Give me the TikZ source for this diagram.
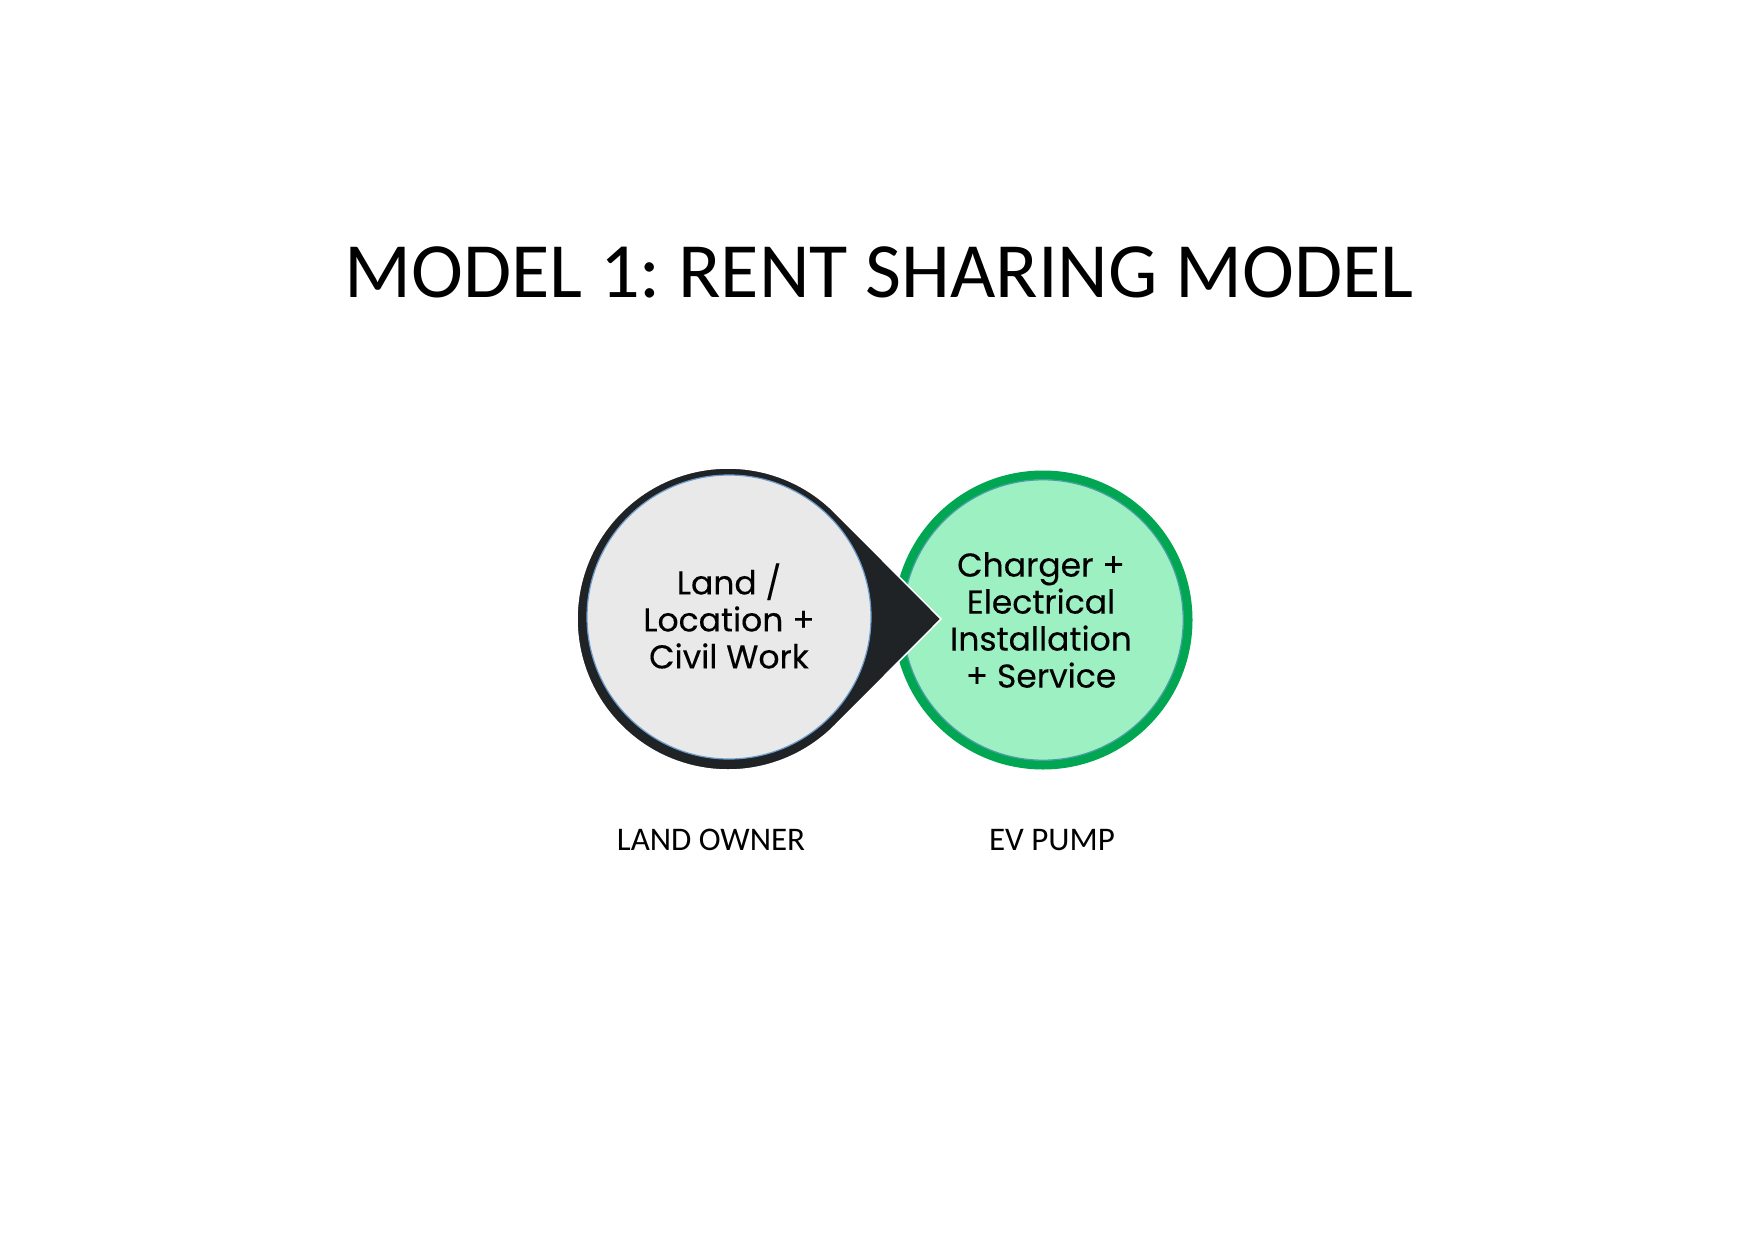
\documentclass[tikz,border=0pt]{standalone}
\usepackage{fontspec}
\usetikzlibrary{calc}
\setmainfont{Carlito}
\newfontfamily\circfont{Poppins}[FakeBold=0.25]
\frenchspacing
\definecolor{ringblack}{HTML}{202325}
\definecolor{grayfill}{HTML}{E9E9E9}
\definecolor{edgeblue}{HTML}{6A9BCB}
\definecolor{ringgreen}{HTML}{00A651}
\definecolor{greenfill}{HTML}{9DF0C2}
\begin{document}
\begin{tikzpicture}[x=1pt,y=-1pt,
  circtext/.style={align=center,font=\circfont\fontsize{33}{37}\selectfont,text=black,inner sep=0pt},
  labeltext/.style={font=\fontsize{33}{38}\selectfont,inner sep=0pt,anchor=base}]
\useasboundingbox[fill=white] (0,0) rectangle (1755,1241);
% title
\node[font=\fontsize{78.3}{96}\selectfont,inner sep=0pt,anchor=base] (title) at (879,297) {MODEL 1: RENT SHARING MODEL};
% right circle (green)
\coordinate (rc) at (1043,620);
\fill[greenfill] (rc) circle (145);
\draw[ringgreen,line width=9pt] (rc) circle (145);
\draw[edgeblue!70!ringgreen,line width=1.2pt] (rc) circle (140.2);
% left pointer shape (black)
\coordinate (lc) at (728,619);
\coordinate (tip) at (941,619);
\filldraw[fill=ringblack,draw=white,line width=1.5pt] (tip) -- ($(lc)+(45:151)$) arc[start angle=45,end angle=315,radius=151] -- cycle;
% left inner circle
\filldraw[fill=grayfill,draw=edgeblue,line width=1.2pt] (729,617) circle (142);
% texts
\node[circtext] (lefttext) at (729,616) {Land /\\Location +\\Civil Work};
\node[circtext] (righttext) at (1041,620) {Charger +\\Electrical\\Installation\\+ Service};
\node[labeltext] (owner) at (711,850) {LAND OWNER};
\node[labeltext] (pump) at (1052,850) {EV PUMP};
\end{tikzpicture}
\end{document}
